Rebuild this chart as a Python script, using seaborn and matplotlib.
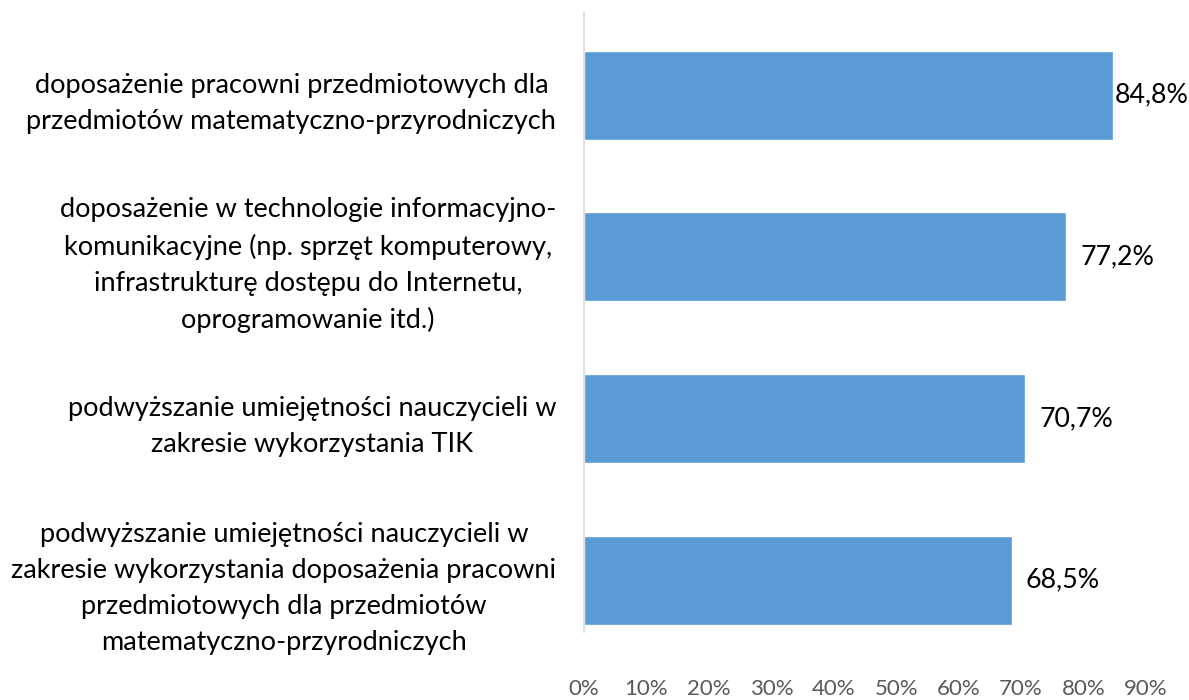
import matplotlib
matplotlib.use("Agg")
import matplotlib.pyplot as plt
import seaborn as sns
import pandas as pd

categories = [
    "doposażenie pracowni przedmiotowych dla\nprzedmiotów matematyczno-przyrodniczych",
    "doposażenie w technologie informacyjno-\nkomunikacyjne (np. sprzęt komputerowy,\ninfrastrukturę dostępu do Internetu,\noprogramowanie itd.)",
    "podwyższanie umiejętności nauczycieli w\nzakresie wykorzystania TIK",
    "podwyższanie umiejętności nauczycieli w\nzakresie wykorzystania doposażenia pracowni\nprzedmiotowych dla przedmiotów\nmatematyczno-przyrodniczych",
]
values = [84.8, 77.2, 70.7, 68.5]
value_labels = ["84,8%", "77,2%", "70,7%", "68,5%"]
xticks = [0, 10, 20, 30, 40, 50, 60, 70, 80, 90]

df = pd.DataFrame({"category": categories, "value": values})

sns.set_style("white")
plt.rcParams["font.family"] = ["Lato", "DejaVu Sans"]

fig = plt.figure(figsize=(11.89, 7), dpi=100)
ax = fig.add_axes([0.4912, 0.0971, 0.4726, 0.8857])

sns.barplot(data=df, x="value", y="category", color="#5B9BD5", saturation=1,
            width=0.55, ax=ax)

for i, (v, lab) in enumerate(zip(values, value_labels)):
    off = 1 if i == 0 else 14
    ax.annotate(lab, (v, i), xytext=(off, 0), textcoords="offset pixels",
                ha="left", va="center", fontsize=19.3, color="black")

ax.set_xlim(0, 90)
ax.set_ylim(3.32, -0.514)
ax.set_xticks(xticks)
ax.set_xticklabels([f"{t}%" for t in xticks], fontsize=16, color="#595959")
ax.set_yticks(range(len(categories)))
ax.set_yticklabels(categories, fontsize=19.5, color="black",
                   multialignment="center", linespacing=1.55)
ax.tick_params(axis="x", length=0, pad=34)
ax.tick_params(axis="y", length=0, pad=20)
ax.set_xlabel("")
ax.set_ylabel("")

for side in ["top", "right", "bottom"]:
    ax.spines[side].set_visible(False)
ax.spines["left"].set_color("#D9D9D9")
ax.spines["left"].set_linewidth(1.2)

fig.savefig("out.png", dpi=100)
plt.close(fig)
